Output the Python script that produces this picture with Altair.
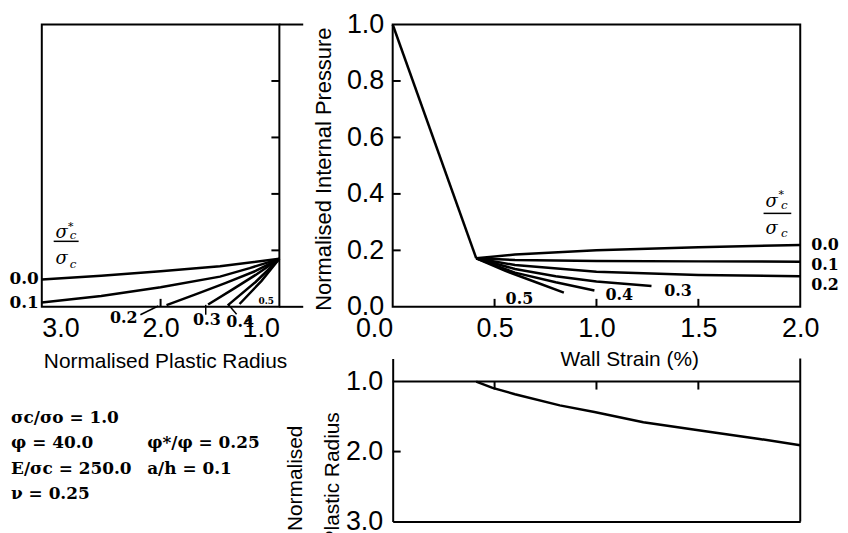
import altair as alt
import pandas as pd

SANS = "Liberation Sans"
SERIF = "DejaVu Serif"

# ---------------- left panel: pressure vs normalised plastic radius ----------------
ratio_names = ["0.0", "0.1", "0.2", "0.3", "0.4", "0.5"]
rad_00 = [3.0, 2.5, 2.0, 1.5, 1.0]
prs_00 = [0.097, 0.110, 0.126, 0.144, 0.170]
rad_01 = [3.0, 2.5, 2.0, 1.5, 1.25, 1.0]
prs_01 = [0.015, 0.038, 0.069, 0.107, 0.137, 0.170]
rad_02 = [1.95, 1.7, 1.45, 1.2, 1.0]
prs_02 = [0.006, 0.045, 0.085, 0.127, 0.170]
rad_03 = [1.60, 1.4, 1.2, 1.0]
prs_03 = [0.008, 0.060, 0.113, 0.170]
rad_04 = [1.435, 1.2, 1.0]
prs_04 = [0.005, 0.088, 0.170]
rad_05 = [1.335, 1.15, 1.0]
prs_05 = [0.010, 0.092, 0.170]

# ---------------- main panel: pressure vs wall strain ----------------
str_el = [0.0, 0.41]
prm_el = [1.0, 0.172]
str_00 = [0.41, 0.6, 1.0, 1.5, 2.0]
prm_00 = [0.172, 0.185, 0.200, 0.211, 0.219]
str_01 = [0.41, 0.6, 1.0, 1.5, 2.0]
prm_01 = [0.172, 0.166, 0.162, 0.161, 0.160]
str_02 = [0.41, 0.6, 1.0, 1.5, 2.0]
prm_02 = [0.172, 0.148, 0.124, 0.113, 0.108]
str_03 = [0.41, 0.6, 0.8, 1.0, 1.27]
prm_03 = [0.172, 0.134, 0.108, 0.090, 0.074]
str_04 = [0.41, 0.6, 0.8, 0.99]
prm_04 = [0.172, 0.121, 0.087, 0.058]
str_05 = [0.41, 0.55, 0.7, 0.84]
prm_05 = [0.172, 0.128, 0.088, 0.050]

# ---------------- bottom panel: plastic radius vs wall strain ----------------
str_rad = [0.41, 0.49, 0.6, 0.82, 0.99, 1.23, 1.56, 1.8, 2.0]
rad_wall = [1.0, 1.09, 1.18, 1.34, 1.435, 1.58, 1.72, 1.82, 1.91]

# ---------------- axes ----------------
left_x_ticks = [3.0, 2.0, 1.0]
press_ticks = [0.0, 0.2, 0.4, 0.6, 0.8, 1.0]
press_inner = [0.2, 0.4, 0.6, 0.8]
press_stubs = [0.0, 1.0]
strain_ticks = [0.0, 0.5, 1.0, 1.5, 2.0]
strain_inner = [0.5, 1.0, 1.5]
rad_ticks = [1.0, 2.0, 3.0]
left_inner_R = [2.0]
rad_inner = [2.0]
rad_top = 0.67

# ---------------- annotations ----------------
left_end_labels = ["0.0", "0.1"]
left_end_P = [0.097, 0.012]
left_low_labels = ["0.2", "0.3", "0.4"]
left_low_R = [2.31, 1.61, 1.33]
left_low_P = [-0.039, -0.048, -0.055]
left_tiny_label = ["0.5"]
left_tiny_R = [1.11]
left_tiny_P = [0.019]
lead_R1 = [2.17, 1.62, 1.43]
lead_P1 = [-0.028, 0.007, 0.008]
lead_R2 = [2.02, 1.62, 1.36]
lead_P2 = [0.003, -0.028, -0.026]

main_low_labels = ["0.5", "0.4", "0.3"]
main_low_S = [0.622, 1.112, 1.40]
main_low_P = [0.028, 0.040, 0.056]
main_end_labels = ["0.0", "0.1", "0.2"]
main_end_P = [0.219, 0.149, 0.076]

frac_glyphs = ["σ", "σ", "c", "c"]
frac_sizes = [18, 18, 12, 12]
fracL_R = [2.833, 2.833, 2.736, 2.736]
fracL_P = [0.262, 0.169, 0.253, 0.153]
fracL_star = [2.757, 0.284]
fracL_bar = [2.90, 2.69, 0.232]
fracM_S = [1.859, 1.859, 1.922, 1.922]
fracM_P = [0.372, 0.274, 0.359, 0.262]
fracM_star = [1.907, 0.396]
fracM_bar = [1.82, 1.956, 0.331]

param_col1 = ["σc/σo = 1.0", "φ = 40.0", "E/σc = 250.0", "ν = 0.25"]
param_col1_P = [-0.411, -0.500, -0.592, -0.680]
param_col2 = ["φ*/φ = 0.25", "a/h = 0.1"]
param_col2_P = [-0.500, -0.592]
param_col1_R = 3.259
param_col2_R = 2.113

# ================= build tables =================
left_lines = pd.DataFrame(
    [{"k": n, "R": r, "P": p}
     for n, rs, ps in zip(ratio_names,
                          [rad_00, rad_01, rad_02, rad_03, rad_04, rad_05],
                          [prs_00, prs_01, prs_02, prs_03, prs_04, prs_05])
     for r, p in zip(rs, ps)])
main_lines = pd.DataFrame(
    [{"k": n, "S": s, "P": p}
     for n, ss, ps in zip(["el"] + ratio_names,
                          [str_el, str_00, str_01, str_02, str_03, str_04, str_05],
                          [prm_el, prm_00, prm_01, prm_02, prm_03, prm_04, prm_05])
     for s, p in zip(ss, ps)])
bottom_line = pd.DataFrame({"S": str_rad, "B": rad_wall})

# ================= scales / axes =================
scL_x = alt.Scale(domain=[1, 3], reverse=True, nice=False, zero=False)
scP = alt.Scale(domain=[0, 1], nice=False, zero=False)
scS = alt.Scale(domain=[0, 2], nice=False, zero=False)
scB = alt.Scale(domain=[rad_top, 3.0], reverse=True, nice=False, zero=False)

axL_x = alt.Axis(values=left_x_ticks, format=".1f", title="Normalised Plastic Radius",
                 labelFontSize=27, labelPadding=9, ticks=False, domain=False, grid=False,
                 titleFontSize=21, titleFontWeight="normal", titleX=124, titleY=55,
                 titleBaseline="middle", titleAlign="center")
axM_x = alt.Axis(values=strain_ticks, format=".1f", title="Wall Strain  (%)",
                 labelFontSize=27, labelPadding=9, ticks=False, domain=False, grid=False,
                 labelAlign={"condition": {"test": "datum.value == 0", "value": "right"},
                             "value": "center"},
                 titleFontSize=21, titleFontWeight="normal", titleX=238, titleY=53,
                 titleBaseline="middle", titleAlign="center")
axM_y = alt.Axis(values=press_ticks, format=".1f", title="Normalised Internal Pressure",
                 labelFontSize=27, labelPadding=9, ticks=False, domain=False, grid=False,
                 titleFontSize=22, titleFontWeight="normal", titleX=-70, titleY=145,
                 titleBaseline="middle", titleAlign="center")
axB_x = alt.Axis(labels=False, ticks=False, title=None, domain=True, domainWidth=2,
                 domainColor="black", grid=False)
axB_y = alt.Axis(values=rad_ticks, format=".1f", title=["Normalised", "Plastic Radius"],
                 labelFontSize=27, labelPadding=10, ticks=False, domain=True,
                 domainWidth=2, domainColor="black", grid=False,
                 titleFontSize=21, titleFontWeight="normal", titleX=-98, titleY=120,
                 titleBaseline="middle", titleAlign="center", titleLineHeight=37)


def xl(f):
    return alt.X(f"{f}:Q", scale=scL_x, axis=axL_x)


def yl(f):
    return alt.Y(f"{f}:Q", scale=scP, axis=None)


def xm(f):
    return alt.X(f"{f}:Q", scale=scS, axis=axM_x)


def ym(f):
    return alt.Y(f"{f}:Q", scale=scP, axis=axM_y)


def xb(f):
    return alt.X(f"{f}:Q", scale=scS, axis=axB_x)


def yb(f):
    return alt.Y(f"{f}:Q", scale=scB, axis=axB_y)


LW = 2.5
txt_bold = dict(font=SERIF, fontWeight="bold", color="black", baseline="middle")

# ================= left panel =================
L = []
L.append(alt.Chart(left_lines).mark_line(color="black", strokeWidth=LW)
         .encode(x=xl("R"), y=yl("P"), detail="k:N"))
L.append(alt.Chart(pd.DataFrame({"R": 1.0, "P": press_inner}))
         .mark_rule(color="black", strokeWidth=2, x2Offset=-8)
         .encode(x=xl("R"), x2="R:Q", y=yl("P")))
L.append(alt.Chart(pd.DataFrame({"R": 1.0, "P": press_stubs}))
         .mark_rule(color="black", strokeWidth=2, x2Offset=24)
         .encode(x=xl("R"), x2="R:Q", y=yl("P")))
L.append(alt.Chart(pd.DataFrame({"R": left_inner_R, "P": 0.0}))
         .mark_rule(color="black", strokeWidth=2, y2Offset=-8)
         .encode(x=xl("R"), y=yl("P"), y2="P:Q"))
L.append(alt.Chart(pd.DataFrame({"R": lead_R1, "P": lead_P1, "R2": lead_R2, "P2": lead_P2}))
         .mark_rule(color="black", strokeWidth=1.5)
         .encode(x=xl("R"), y=yl("P"), x2="R2:Q", y2="P2:Q"))
L.append(alt.Chart(pd.DataFrame({"R": 3.0, "P": left_end_P, "t": left_end_labels}))
         .mark_text(align="right", dx=-3, fontSize=17, **txt_bold)
         .encode(x=xl("R"), y=yl("P"), text="t:N"))
L.append(alt.Chart(pd.DataFrame({"R": left_low_R, "P": left_low_P, "t": left_low_labels}))
         .mark_text(align="center", fontSize=16, **txt_bold)
         .encode(x=xl("R"), y=yl("P"), text="t:N"))
L.append(alt.Chart(pd.DataFrame({"R": left_tiny_R, "P": left_tiny_P, "t": left_tiny_label}))
         .mark_text(align="center", fontSize=9, **txt_bold)
         .encode(x=xl("R"), y=yl("P"), text="t:N"))
L.append(alt.Chart(pd.DataFrame({"R": fracL_R, "P": fracL_P, "t": frac_glyphs, "z": frac_sizes}))
         .mark_text(align="center", baseline="middle", font=SERIF, fontStyle="italic", color="black")
         .encode(x=xl("R"), y=yl("P"), text="t:N", size=alt.Size("z:Q", scale=None)))
L.append(alt.Chart(pd.DataFrame({"R": [fracL_star[0]], "P": [fracL_star[1]], "t": ["*"]}))
         .mark_text(align="center", baseline="middle", font=SERIF, fontSize=11, color="black")
         .encode(x=xl("R"), y=yl("P"), text="t:N"))
L.append(alt.Chart(pd.DataFrame({"R": [fracL_bar[0]], "R2": [fracL_bar[1]], "P": [fracL_bar[2]]}))
         .mark_rule(color="black", strokeWidth=1.5)
         .encode(x=xl("R"), x2="R2:Q", y=yl("P")))
L.append(alt.Chart(pd.DataFrame({"R": param_col1_R, "P": param_col1_P, "t": param_col1}))
         .mark_text(align="left", baseline="alphabetic", font=SERIF, fontWeight="bold",
                    fontSize=17, color="black")
         .encode(x=xl("R"), y=yl("P"), text="t:N"))
L.append(alt.Chart(pd.DataFrame({"R": param_col2_R, "P": param_col2_P, "t": param_col2}))
         .mark_text(align="left", baseline="alphabetic", font=SERIF, fontWeight="bold",
                    fontSize=17, color="black")
         .encode(x=xl("R"), y=yl("P"), text="t:N"))
left = alt.layer(*L).properties(width=239, height=284)

# ================= main panel =================
M = []
M.append(alt.Chart(main_lines).mark_line(color="black", strokeWidth=LW)
         .encode(x=xm("S"), y=ym("P"), detail="k:N"))
M.append(alt.Chart(pd.DataFrame({"S": 0.0, "P": press_inner}))
         .mark_rule(color="black", strokeWidth=2, x2Offset=8)
         .encode(x=xm("S"), x2="S:Q", y=ym("P")))
M.append(alt.Chart(pd.DataFrame({"S": strain_inner, "P": 0.0}))
         .mark_rule(color="black", strokeWidth=2, y2Offset=-8)
         .encode(x=xm("S"), y=ym("P"), y2="P:Q"))
M.append(alt.Chart(pd.DataFrame({"S": main_low_S, "P": main_low_P, "t": main_low_labels}))
         .mark_text(align="center", fontSize=16, **txt_bold)
         .encode(x=xm("S"), y=ym("P"), text="t:N"))
M.append(alt.Chart(pd.DataFrame({"S": 2.0, "P": main_end_P, "t": main_end_labels}))
         .mark_text(align="left", dx=11, fontSize=16, **txt_bold)
         .encode(x=xm("S"), y=ym("P"), text="t:N"))
M.append(alt.Chart(pd.DataFrame({"S": fracM_S, "P": fracM_P, "t": frac_glyphs, "z": frac_sizes}))
         .mark_text(align="center", baseline="middle", font=SERIF, fontStyle="italic", color="black")
         .encode(x=xm("S"), y=ym("P"), text="t:N", size=alt.Size("z:Q", scale=None)))
M.append(alt.Chart(pd.DataFrame({"S": [fracM_star[0]], "P": [fracM_star[1]], "t": ["*"]}))
         .mark_text(align="center", baseline="middle", font=SERIF, fontSize=11, color="black")
         .encode(x=xm("S"), y=ym("P"), text="t:N"))
M.append(alt.Chart(pd.DataFrame({"S": [fracM_bar[0]], "S2": [fracM_bar[1]], "P": [fracM_bar[2]]}))
         .mark_rule(color="black", strokeWidth=1.5)
         .encode(x=xm("S"), x2="S2:Q", y=ym("P")))
main = alt.layer(*M).properties(width=410, height=284)

# ================= bottom panel =================
B = []
B.append(alt.Chart(bottom_line).mark_line(color="black", strokeWidth=LW)
         .encode(x=xb("S"), y=yb("B")))
B.append(alt.Chart(pd.DataFrame({"S": [0.0], "S2": [2.0], "B": [1.0]}))
         .mark_rule(color="black", strokeWidth=2)
         .encode(x=xb("S"), x2="S2:Q", y=yb("B")))
B.append(alt.Chart(pd.DataFrame({"S": [2.0], "B": [rad_top], "B2": [3.0]}))
         .mark_rule(color="black", strokeWidth=2)
         .encode(x=xb("S"), y=yb("B"), y2="B2:Q"))
B.append(alt.Chart(pd.DataFrame({"S": strain_inner, "B": 1.0}))
         .mark_rule(color="black", strokeWidth=2, y2Offset=8)
         .encode(x=xb("S"), y=yb("B"), y2="B:Q"))
B.append(alt.Chart(pd.DataFrame({"S": 0.0, "B": rad_inner}))
         .mark_rule(color="black", strokeWidth=2, x2Offset=8)
         .encode(x=xb("S"), x2="S:Q", y=yb("B")))
bottom = alt.layer(*B).properties(width=410, height=164,
                                   view=alt.ViewBackground(stroke=None))

right_col = alt.vconcat(main, bottom, spacing=52, bounds="flush")
chart = (alt.hconcat(left, right_col, spacing=114, bounds="flush")
         .properties(padding=0, background="white")
         .configure_view(stroke="black", strokeWidth=2)
         .configure_axis(labelFont=SANS, titleFont=SANS, labelColor="black",
                         titleColor="black"))

chart.save("out.html", embed_options={"renderer": "svg", "actions": False})
